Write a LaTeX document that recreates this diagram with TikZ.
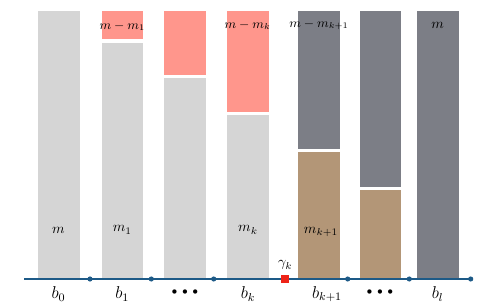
\documentclass[tikz,border=0pt]{standalone}
\usepackage{amsmath, amssymb}
\usepackage{tikz}
\usetikzlibrary{positioning}

\definecolor{lightbar}{HTML}{D5D5D5}
\definecolor{redbar}{HTML}{FF968C}
\definecolor{darkbar}{HTML}{7C7E86}
\definecolor{brownbar}{HTML}{B39677}
\definecolor{axisblue}{HTML}{1D5A87}
\definecolor{gammared}{HTML}{EE2418}

\begin{document}
\begin{tikzpicture}[x=0.7pt, y=-0.7pt,
    bar/.style={draw=white, line width=0.6pt},
    lbl/.style={font=\normalsize},
    toplbl/.style={font=\small},
    axlbl/.style={font=\large},
    tick/.style={circle, fill=axisblue, inner sep=0pt, minimum size=3.6pt}]
    \useasboundingbox (0,0) rectangle (498,308);

    % bars
    \filldraw[bar, fill=lightbar] (37,10.7) rectangle (80,278);
    \filldraw[bar, fill=redbar] (101,10.7) rectangle (143.7,39.8);
    \filldraw[bar, fill=lightbar] (101,42) rectangle (143.7,278);
    \filldraw[bar, fill=redbar] (163.7,10.7) rectangle (206.3,75.2);
    \filldraw[bar, fill=lightbar] (163.7,77.4) rectangle (206.3,278);
    \filldraw[bar, fill=redbar] (226.3,10.7) rectangle (269,112.2);
    \filldraw[bar, fill=lightbar] (226.3,114.2) rectangle (269,278);
    \filldraw[bar, fill=darkbar] (297.7,10.7) rectangle (340.3,149.3);
    \filldraw[bar, fill=brownbar] (297.7,151.3) rectangle (340.3,278);
    \filldraw[bar, fill=darkbar] (359,10.7) rectangle (401.3,187.6);
    \filldraw[bar, fill=brownbar] (359,189.6) rectangle (401.3,278);
    \filldraw[bar, fill=darkbar] (416.3,10.7) rectangle (459,278);

    % labels in bars
    \node[lbl] (m0) at (58.5,230) {$m$};
    \node[lbl] (m1) at (122.3,230) {$m_1$};
    \node[lbl] (mk) at (248,230) {$m_k$};
    \node[lbl] (mk1) at (321,232) {$m_{k+1}$};
    \node[toplbl] (r1) at (122.3,26) {$m-m_1$};
    \node[toplbl] (rk) at (247.6,25) {$m-m_k$};
    \node[toplbl] (rk1) at (319,25) {$m-m_{k+1}$};
    \node[lbl] (ml) at (437.6,25) {$m$};

    % axis
    \coordinate (a0) at (24,279);
    \coordinate (a1) at (470.7,279);
    \draw[axisblue, line width=0.9pt] (a0) -- (a1);
    \foreach \x/\n in {90/t1, 151.3/t2, 213.7/t3, 347.7/t4, 409.3/t5, 470.7/t6}
        \node[tick] (\n) at (\x,279) {};
    \node[fill=gammared, inner sep=0pt, minimum size=5.6pt] (g) at (285.3,279) {};
    \node[lbl, above=0pt of g] (gk) {$\gamma_k$};

    \node[axlbl] (b0) at (58.5,294) {$b_0$};
    \node[axlbl] (b1) at (122.3,294) {$b_1$};
    \node[font=\scriptsize] (d1) at (185,292) {$\bullet\,\bullet\,\bullet$};
    \node[axlbl] (bk) at (248,294) {$b_k$};
    \node[axlbl] (bk1) at (327,294) {$b_{k+1}$};
    \node[font=\scriptsize] (d2) at (380,292) {$\bullet\,\bullet\,\bullet$};
    \node[axlbl] (bl) at (437.6,294) {$b_l$};
\end{tikzpicture}
\end{document}
